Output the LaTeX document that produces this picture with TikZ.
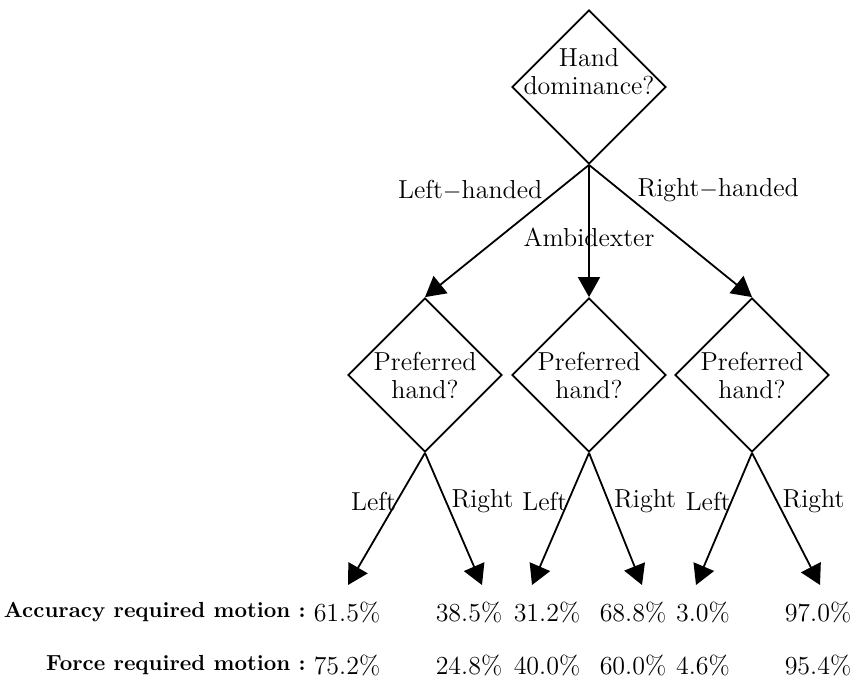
\documentclass[tikz,border=0pt]{standalone}
\usetikzlibrary{shapes.geometric,arrows.meta}
\begin{document}
\begin{tikzpicture}[x=0.5pt,y=-0.5pt]
	\tikzset{noeud/.style={diamond, draw=black, line width=0.9pt, minimum width=77pt, minimum height=77pt, inner sep=-14pt, align=center, font=\fontsize{13}{14}\selectfont}, fleche/.style={line width=0.9pt, >={Triangle[length=10pt,width=11pt]}, ->}, etiq/.style={inner sep=0pt, font=\fontsize{13}{14}\selectfont}, ligne/.style={inner sep=0pt, font=\fontsize{10.9}{12}\bfseries}};
	\useasboundingbox (0,0) rectangle (856,680);
	\node[noeud] (h) at (589,87) {Hand\\dominance?\\[2pt]\mbox{}};
	\node[noeud] (l) at (425,375) {Preferred\\hand?};
	\node[noeud] (a) at (589,375) {Preferred\\hand?};
	\node[noeud] (r) at (752,375) {Preferred\\hand?};

	\coordinate (l1) at (348,585);
	\coordinate (l2) at (482,585);
	\coordinate (a1) at (532,585);
	\coordinate (a2) at (642,585);
	\coordinate (r1) at (696,585);
	\coordinate (r2) at (820,585);

	\draw[fleche] (h.south) -- node[etiq, pos=0.194, left=7pt] {Left$-$handed} (l.north);
	\draw[fleche] (h.south) -- node[etiq, pos=0.545] {Ambidexter} (a.north);
	\draw[fleche] (h.south) -- node[etiq, pos=0.194, right=8pt] {Right$-$handed} (r.north);

	\draw[fleche] (l.south) -- node[etiq, pos=0.364, left=0pt] {Left} (l1);
	\draw[fleche] (l.south) -- node[etiq, pos=0.364, right=2.5pt] {Right} (l2);
	\draw[fleche] (a.south) -- node[etiq, pos=0.364, left=0pt] {Left} (a1);
	\draw[fleche] (a.south) -- node[etiq, pos=0.364, right=2.5pt] {Right} (a2);
	\draw[fleche] (r.south) -- node[etiq, pos=0.364, left=0pt] {Left} (r1);
	\draw[fleche] (r.south) -- node[etiq, pos=0.364, right=2.5pt] {Right} (r2);

	\node[ligne, anchor=east] (acc) at (306,612) {Accuracy required motion :};
	\node[ligne, anchor=east] (for) at (306,665) {Force required motion :};

	\node[etiq] (p1) at (347,612) {61.5\%};
	\node[etiq] (p2) at (469,612) {38.5\%};
	\node[etiq] (p3) at (547,612) {31.2\%};
	\node[etiq] (p4) at (633,612) {68.8\%};
	\node[etiq] (p5) at (703,612) {3.0\%};
	\node[etiq] (p6) at (818,612) {97.0\%};

	\node[etiq] (q1) at (347,665) {75.2\%};
	\node[etiq] (q2) at (469,665) {24.8\%};
	\node[etiq] (q3) at (547,665) {40.0\%};
	\node[etiq] (q4) at (633,665) {60.0\%};
	\node[etiq] (q5) at (703,665) {4.6\%};
	\node[etiq] (q6) at (818,665) {95.4\%};
\end{tikzpicture}
\end{document}
